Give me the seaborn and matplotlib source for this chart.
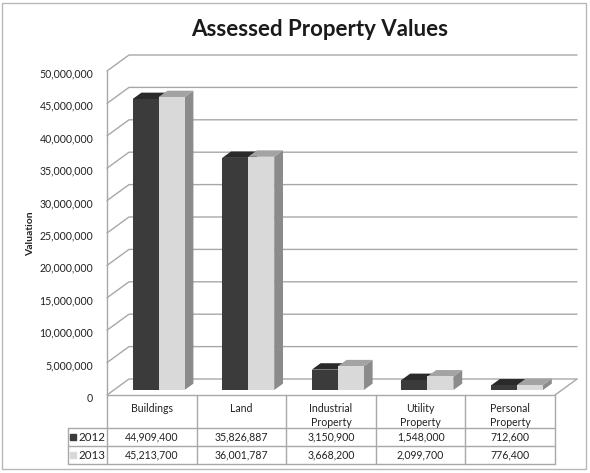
import matplotlib
matplotlib.use("Agg")
import matplotlib.pyplot as plt
import matplotlib.patches as mpatches
import matplotlib.transforms as mtransforms
from matplotlib.ticker import FuncFormatter
import seaborn as sns
import pandas as pd

# Data
categories = ['Buildings', 'Land', 'Industrial\nProperty', 'Utility\nProperty', 'Personal\nProperty']
years = ['2012', '2013']
values_2012 = [44909400, 35826887, 3150900, 1548000, 712600]
values_2013 = [45213700, 36001787, 3668200, 2099700, 776400]
y_ticks = [0, 5000000, 10000000, 15000000, 20000000, 25000000,
           30000000, 35000000, 40000000, 45000000, 50000000]

front_colors = ['#3b3b3b', '#d9d9d9']
top_colors = ['#2a2a2a', '#a3a3a3']
side_colors = ['#262626', '#8b8b8b']
grid_color = '#a8a8a8'

df = pd.DataFrame({
    'category': categories * 2,
    'year': [years[0]] * 5 + [years[1]] * 5,
    'value': values_2012 + values_2013,
})

# Style
sns.set_style("white")
plt.rcParams['font.family'] = ['Lato', 'DejaVu Sans']

W, H = 590, 473
fig = plt.figure(figsize=(W / 100, H / 100), dpi=100)
# front plane of the 3d box
ax = fig.add_axes([107 / W, (H - 395) / H, 448 / W, 324 / H])

sns.barplot(data=df, x='category', y='value', hue='year', palette=front_colors,
            width=0.58, gap=0, dodge=True, legend=False, errorbar=None,
            saturation=1, linewidth=0, ax=ax)

ax.set_xlim(-0.5, 4.5)
ax.set_ylim(0, 50000000)

# depth of the box (data units)
wall_dx = 22 / 89.6
wall_dy = 16 * 50000000 / 324
bar_f0 = 0.31      # where the bar fronts sit in depth
bar_depth = 0.40   # bar depth as a share of the box

# Back wall gridlines + front axis
for v in y_ticks:
    ax.plot([-0.5, -0.5 + wall_dx, 4.5 + wall_dx], [v, v + wall_dy, v + wall_dy],
            color=grid_color, lw=1, clip_on=False, zorder=1)
ax.plot([-0.5, -0.5], [0, 50000000], color=grid_color, lw=1, clip_on=False, zorder=1)
ax.plot([4.5, 4.5 + wall_dx], [0, wall_dy], color=grid_color, lw=1, clip_on=False, zorder=1)

# 3d bars: shift seaborn's bars back and add top / side faces
bars = list(ax.patches)
sx, sy = bar_f0 * wall_dx, bar_f0 * wall_dy
bdx, bdy = bar_depth * wall_dx, bar_depth * wall_dy
n = len(categories)
for k, bar in enumerate(bars):
    s = k // n
    c = k % n
    z = 3 + c + 0.3 * s
    x, w, h = bar.get_x() + sx, bar.get_width(), bar.get_height()
    y = sy
    bar.set_x(x)
    bar.set_y(y)
    bar.set_zorder(z + 0.2)
    bar.set_clip_on(False)
    top = mpatches.Polygon([(x, y + h), (x + bdx, y + h + bdy), (x + w + bdx, y + h + bdy), (x + w, y + h)],
                           closed=True, fc=top_colors[s], ec='none', zorder=z + 0.1, clip_on=False)
    side = mpatches.Polygon([(x + w, y), (x + w + bdx, y + bdy), (x + w + bdx, y + h + bdy), (x + w, y + h)],
                            closed=True, fc=side_colors[s], ec='none', zorder=z, clip_on=False)
    ax.add_patch(top)
    ax.add_patch(side)

# Axis formatting
ax.set_yticks(y_ticks)
ax.yaxis.set_major_formatter(FuncFormatter(lambda v, _: f'{int(v):,}'))
ax.tick_params(axis='y', length=0, pad=10, labelsize=7.6, labelcolor='#222222')
shift_down = mtransforms.ScaledTranslation(0, -2 / 100, fig.dpi_scale_trans)
for lbl in ax.get_yticklabels():
    lbl.set_transform(lbl.get_transform() + shift_down)
ax.set_xticks([])
ax.set_xlabel('')
ax.set_ylabel('')
for sp in ax.spines.values():
    sp.set_visible(False)

# Data table under the plot
tr = ax.get_xaxis_transform()
line_kw = dict(color=grid_color, lw=1, transform=tr, clip_on=False)
y_head, y_r1, y_r2 = -0.1019, -0.1574, -0.2130
left_x = -0.935
ax.plot([-0.5, 4.5], [0, 0], **line_kw)
ax.plot([left_x, 4.5], [y_head, y_head], **line_kw)
ax.plot([left_x, 4.5], [y_r1, y_r1], **line_kw)
ax.plot([left_x, 4.5], [y_r2, y_r2], **line_kw)
ax.plot([left_x, left_x], [y_head, y_r2], **line_kw)
for i in range(len(categories) + 1):
    ax.plot([i - 0.5, i - 0.5], [0, y_r2], **line_kw)

for i, cat in enumerate(categories):
    ax.text(i, -0.024, cat, transform=tr, ha='center', va='top', fontsize=7.6,
            linespacing=1.4, color='#222222', clip_on=False)
rows = [values_2012, values_2013]
row_y = [(y_head + y_r1) / 2, (y_r1 + y_r2) / 2]
for s, vals in enumerate(rows):
    for i, v in enumerate(vals):
        ax.text(i, row_y[s], f'{v:,}', transform=tr, ha='center', va='center',
                fontsize=7.6, color='#222222', clip_on=False)
    ax.plot([-0.88], [row_y[s]], marker='s', ms=4.5, color=front_colors[s], ls='none',
            transform=tr, clip_on=False)
    ax.text(-0.82, row_y[s], years[s], transform=tr, ha='left', va='center',
            fontsize=8.3, color='#222222', clip_on=False)

# Title and y label
fig.text(320 / W, 1 - 30 / H, 'Assessed Property Values', ha='center', va='center',
         fontsize=16, fontweight='bold', color='#1a1a1a')
fig.text(31 / W, 1 - 234 / H, 'Valuation', ha='center', va='center', rotation=90,
         fontsize=7.5, fontweight='bold', color='#222222')

# Outer chart border
fig.patches.append(mpatches.Rectangle((2 / W, 4 / H), 584 / W, 466 / H, transform=fig.transFigure,
                                      fill=False, ec='#b8b8b8', lw=1))

fig.savefig('out.png', dpi=100)
